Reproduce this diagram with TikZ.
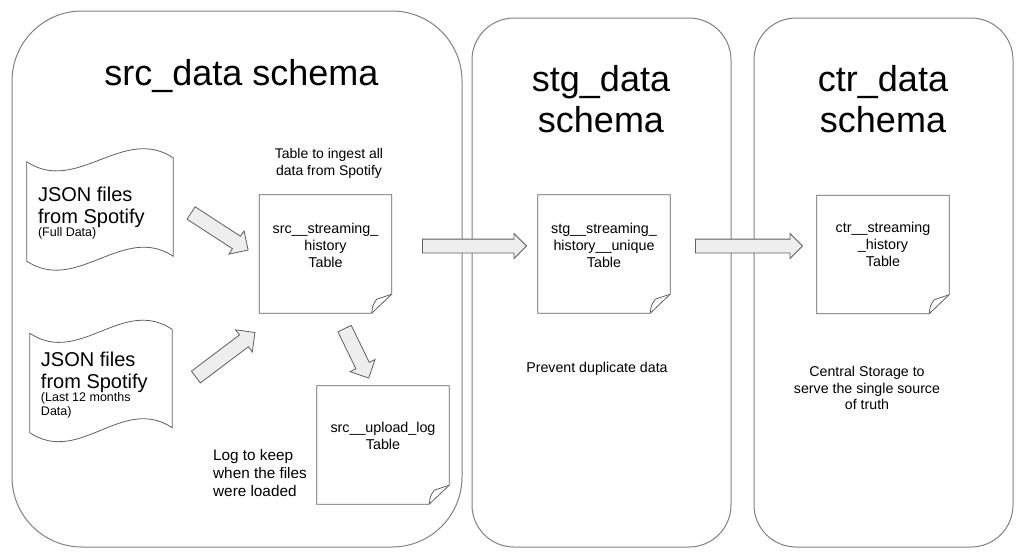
\documentclass[tikz,border=0pt]{standalone}
\usepackage{fontspec}
\setmainfont{Liberation Sans}
\usetikzlibrary{shapes.arrows,positioning}
\definecolor{panelgray}{HTML}{808080}
\definecolor{linegray}{HTML}{5F5F5F}
\definecolor{arrowgray}{HTML}{EEEEEE}
\newcommand\smallnote{\fontsize{12.5}{14}\selectfont}
\begin{document}
\begin{tikzpicture}[x=1pt,y=-1pt,
      schemabox/.style={draw=panelgray,line width=1pt,rounded corners=#1,inner sep=0},
      schematitle/.style={anchor=north,inner sep=0,align=flush center,font=\fontsize{36}{41}\selectfont},
      tablebox/.style={minimum width=132,minimum height=118,inner sep=0},
      tabletext/.style={anchor=north,inner sep=0,align=flush center,font=\fontsize{14.3}{17}\selectfont},
      remark/.style={inner sep=0,font=\fontsize{14.2}{16.7}\selectfont},
      jsonfile/.style={minimum width=146,minimum height=103,inner xsep=11,inner ysep=0,
        text width=124,align=flush left,font=\fontsize{20}{21.5}\selectfont},
      flowarrow/.style={single arrow,draw=linegray,fill=arrowgray,line width=0.8pt,inner xsep=0,
        inner ysep=6.5,minimum width=24,single arrow head extend=5.5,single arrow head indent=0},
      slantarrow/.style={flowarrow,inner ysep=7,minimum width=27,single arrow head extend=6.5}]
      \useasboundingbox (0,0) rectangle (1021,558);
      % schemas
      \node[schemabox=70,minimum width=450,minimum height=536] (srcbox) at (237,279) {};
      \node[schemabox=42,minimum width=259,minimum height=529] (stgbox) at (601.5,282.5) {};
      \node[schemabox=42,minimum width=259,minimum height=529] (ctrbox) at (883.5,282.5) {};
      \node[schematitle] (srctitle) at (241.5,59) {src\_data schema};
      \node[schematitle] (stgtitle) at (601,65) {stg\_data\\schema};
      \node[schematitle] (ctrtitle) at (883,65) {ctr\_data\\schema};
      % source files
      \node[jsonfile] (fulljson) at (100,213.5) {JSON files\\from Spotify\\[-8pt]{\smallnote(Full Data)}};
      \node[jsonfile,minimum width=142,text width=120] (lastjson) at (101,385) {JSON files\\from Spotify\\[-8pt]{\smallnote(Last 12 months}\\[-8pt]{\smallnote Data)}};
      \foreach \n in {fulljson,lastjson}{
        \draw[linegray,line width=0.8pt] ([shift={(0,0)}]\n.north west) .. controls +(50,33) and +(-50,-33) ..
          ([shift={(0,-4)}]\n.north east) -- ([shift={(0,-9)}]\n.south east) .. controls +(-50,-33) and +(50,33) ..
          ([shift={(0,-4)}]\n.south west) -- cycle;
      }
      % tables
      \node[tablebox] (srch) at (325.5,254) {};
      \node[tablebox] (upl) at (383,445) {};
      \node[tablebox] (stgh) at (604,254) {};
      \node[tablebox] (ctrh) at (883,254.5) {};
      \foreach \n in {srch,upl,stgh,ctrh}{
        \draw[linegray,line width=0.8pt] (\n.north west) -- (\n.north east) -- ([yshift=19pt]\n.south east)
          -- ([xshift=-20pt]\n.south east) -- (\n.south west) -- cycle;
        \draw[linegray,line width=0.8pt] ([xshift=-20pt]\n.south east) .. controls ([xshift=-19pt,yshift=8pt]\n.south east)
          .. ([xshift=-15pt,yshift=14pt]\n.south east) -- ([yshift=19pt]\n.south east);
      }
      \node[tabletext,below=28pt of srch.north] (srchtext) {src\_\_streaming\_\\history\\Table};
      \node[tabletext,below=36pt of upl.north] (upltext) {src\_\_upload\_log\\Table};
      \node[tabletext,below=28pt of stgh.north] (stghtext) {stg\_\_streaming\_\\history\_\_unique\\Table};
      \node[tabletext,below=27pt of ctrh.north] (ctrhtext) {ctr\_\_streaming\\\_history\\Table};
      % remarks
      \node[remark,anchor=north,align=flush center,font=\fontsize{14}{17}\selectfont] (ingest) at (329,148) {Table to ingest all\\data from Spotify};
      \node[remark,anchor=north west,align=flush left,font=\fontsize{15.3}{18}\selectfont] (logkeep) at (213,449) {Log to keep\\when the files\\were loaded};
      \node[remark,anchor=north] (dedup) at (597,362) {Prevent duplicate data};
      \node[remark,anchor=north,align=flush center] (central) at (867,366) {Central Storage to\\serve the single source\\of truth};
      % arrows
      \node[slantarrow,minimum height=68,rotate=-33] (fullin) at (216.5,229.5) {};
      \node[slantarrow,minimum height=74,rotate=37] (lastin) at (222.5,357) {};
      \node[slantarrow,minimum height=55,rotate=-64] (logout) at (355,350) {};
      \node[flowarrow,minimum height=104] (tostg) at (471,246) {};
      \node[flowarrow,minimum height=107] (toctr) at (745.5,246) {};
\end{tikzpicture}
\end{document}
